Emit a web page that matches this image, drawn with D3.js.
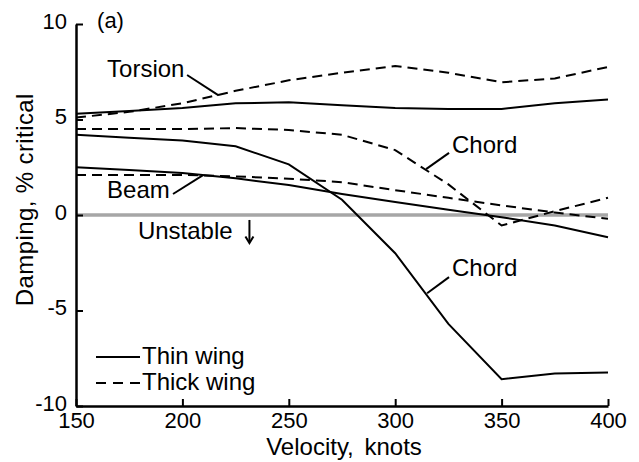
<!DOCTYPE html>
<html>
<head>
<meta charset="utf-8">
<script src="https://cdn.jsdelivr.net/npm/d3@7"></script>
<style>
  body { margin: 0; background: #fff; }
  text { font-family: "Liberation Sans", Arial, sans-serif; fill: #000; }
</style>
</head>
<body>
<div id="container"></div>
<script>
// velocity in knots, damping in % critical
var velocity = [150, 175, 200, 225, 250, 275, 300, 325, 350, 375, 400]

var torsionThin = [5.3, 5.45, 5.6, 5.85, 5.9, 5.75, 5.6, 5.55, 5.55, 5.85, 6.05]
var torsionThick = [5.1, 5.4, 5.85, 6.5, 7.05, 7.45, 7.8, 7.45, 6.95, 7.15, 7.75]
var chordThin = [4.2, 4.05, 3.9, 3.6, 2.65, 0.8, -2.0, -5.7, -8.6, -8.3, -8.25]
var chordThick = [4.5, 4.5, 4.5, 4.55, 4.45, 4.2, 3.4, 1.6, -0.55, 0.2, 0.9]
var beamThin = [2.5, 2.35, 2.2, 1.92, 1.57, 1.1, 0.68, 0.28, -0.12, -0.55, -1.17]
var beamThick = [2.1, 2.1, 2.1, 2.02, 1.9, 1.72, 1.3, 0.9, 0.5, 0.13, -0.2]

var xTicks = [150, 200, 250, 300, 350, 400]
var yTicks = [-10, -5, 0, 5, 10]

var legendNames = ['Thin wing', 'Thick wing']

var _default = {
  width: 639,
  height: 462,
  left: 76,
  right: 608,
  top: 24,
  bottom: 406
}

function dampingChart(options) {
  options = options || _default
  this.width = options.width
  this.height = options.height
  this.opt = options
  this.series = [
    { values: torsionThin, thick: false },
    { values: torsionThick, thick: true },
    { values: chordThin, thick: false },
    { values: chordThick, thick: true },
    { values: beamThin, thick: false },
    { values: beamThick, thick: true }
  ]
}

dampingChart.prototype.initLayout = function () {
  this.svg = d3.select('#container')
    .append('svg')
    .attr('width', this.width)
    .attr('height', this.height)

  this.x = d3.scaleLinear().domain([150, 400]).range([this.opt.left, this.opt.right])
  this.y = d3.scaleLinear().domain([-10, 10]).range([this.opt.bottom, this.opt.top])
  return this
}

dampingChart.prototype.renderAxes = function () {
  var x = this.x, y = this.y
  var plain = function (d) { return String(d) } // hyphen minus like the original

  // zero line first so curves sit on top
  this.svg.append('line')
    .attr('x1', x(150)).attr('x2', x(400))
    .attr('y1', y(0)).attr('y2', y(0))
    .attr('stroke', '#a6a6a6')
    .attr('stroke-width', 3.5)

  var gx = this.svg.append('g')
    .attr('transform', 'translate(0,' + y(-10) + ')')
    .call(d3.axisBottom(x).tickValues(xTicks).tickFormat(plain).tickSizeInner(-7).tickSizeOuter(0).tickPadding(6))
  gx.selectAll('text').style('font-size', '22px').style('font-family', '"Liberation Sans", Arial, sans-serif')

  var gy = this.svg.append('g')
    .attr('transform', 'translate(' + x(150) + ',0)')
    .call(d3.axisLeft(y).tickValues(yTicks).tickFormat(plain).tickSizeInner(-7).tickSizeOuter(0).tickPadding(9))
  gy.selectAll('text').attr('dy', '0.2em').style('font-size', '22px').style('font-family', '"Liberation Sans", Arial, sans-serif')

  this.svg.selectAll('.domain').attr('stroke', '#000').attr('stroke-width', 2.5)
  this.svg.selectAll('.tick line').attr('stroke', '#000').attr('stroke-width', 2)

  this.svg.append('text')
    .attr('x', (x(150) + x(400)) / 2 + 2)
    .attr('y', 455)
    .attr('text-anchor', 'middle')
    .style('font-size', '24px')
    .style('word-spacing', '4px')
    .text('Velocity, knots')

  this.svg.append('text')
    .attr('transform', 'translate(33,' + y(0.8) + ') rotate(-90)')
    .attr('text-anchor', 'middle')
    .style('font-size', '24px')
    .style('letter-spacing', '0.4px')
    .text('Damping, % critical')

  return this
}

dampingChart.prototype.renderLines = function () {
  var x = this.x, y = this.y
  var line = d3.line()
    .x(function (d, i) { return x(velocity[i]) })
    .y(function (d) { return y(d) })

  this.svg.append('g')
    .selectAll('path')
    .data(this.series)
    .enter().append('path')
    .attr('d', function (d) { return line(d.values) })
    .attr('fill', 'none')
    .attr('stroke', '#000')
    .attr('stroke-width', 2)
    .attr('stroke-dasharray', function (d) { return d.thick ? '10,6' : null })
  return this
}

dampingChart.prototype.renderNotes = function () {
  var x = this.x, y = this.y, svg = this.svg
  var notes = [
    { text: 'Torsion', at: [164.6, 7.2], from: [202.2, 7.33], to: [217, 6.26] },
    { text: 'Chord', at: [326.7, 3.25], from: [325.3, 3.25], to: [314.5, 2.4] },
    { text: 'Chord', at: [326.7, -3.19], from: [325.3, -3.25], to: [315, -4.1] },
    { text: 'Beam', at: [164.6, 0.89], from: [195.6, 1.1], to: [209.7, 2.09] }
  ]
  notes.forEach(function (n) {
    svg.append('text')
      .attr('x', x(n.at[0])).attr('y', y(n.at[1]))
      .style('font-size', '24px')
      .text(n.text)
    svg.append('line')
      .attr('x1', x(n.from[0])).attr('y1', y(n.from[1]))
      .attr('x2', x(n.to[0])).attr('y2', y(n.to[1]))
      .attr('stroke', '#000').attr('stroke-width', 2)
  })

  svg.append('text')
    .attr('x', x(179.1)).attr('y', y(-1.26))
    .style('font-size', '24px')
    .text('Unstable')
  // small downward arrow
  var ax = x(231.5)
  svg.append('line')
    .attr('x1', ax).attr('x2', ax)
    .attr('y1', y(-0.26)).attr('y2', y(-1.42))
    .attr('stroke', '#000').attr('stroke-width', 2)
  svg.append('path')
    .attr('d', 'M' + (ax - 4) + ',' + (y(-1.12)) + 'L' + ax + ',' + (y(-1.47)) + 'L' + (ax + 4) + ',' + (y(-1.12)))
    .attr('fill', 'none').attr('stroke', '#000').attr('stroke-width', 2)

  svg.append('text')
    .attr('x', x(159.9)).attr('y', y(9.79))
    .style('font-size', '22px')
    .text('(a)')
  return this
}

dampingChart.prototype.renderLegend = function () {
  var legend = this.svg.append('g')
    .selectAll('g')
    .data(legendNames)
    .enter().append('g')
    .attr('transform', function (d, i) { return 'translate(96,' + (357 + i * 26) + ')' })

  legend.append('line')
    .attr('x1', 0).attr('x2', 44)
    .attr('stroke', '#000').attr('stroke-width', 2)
    .attr('stroke-dasharray', function (d, i) { return i ? '10,7' : null })

  legend.append('text')
    .attr('x', 46).attr('dy', '0.3em')
    .style('font-size', '24px')
    .text(function (d) { return d })
  return this
}

dampingChart.prototype.init = function () {
  this.initLayout()
    .renderAxes()
    .renderLines()
    .renderNotes()
    .renderLegend()
}

var chart = new dampingChart(_default)
chart.init()
</script>
</body>
</html>
